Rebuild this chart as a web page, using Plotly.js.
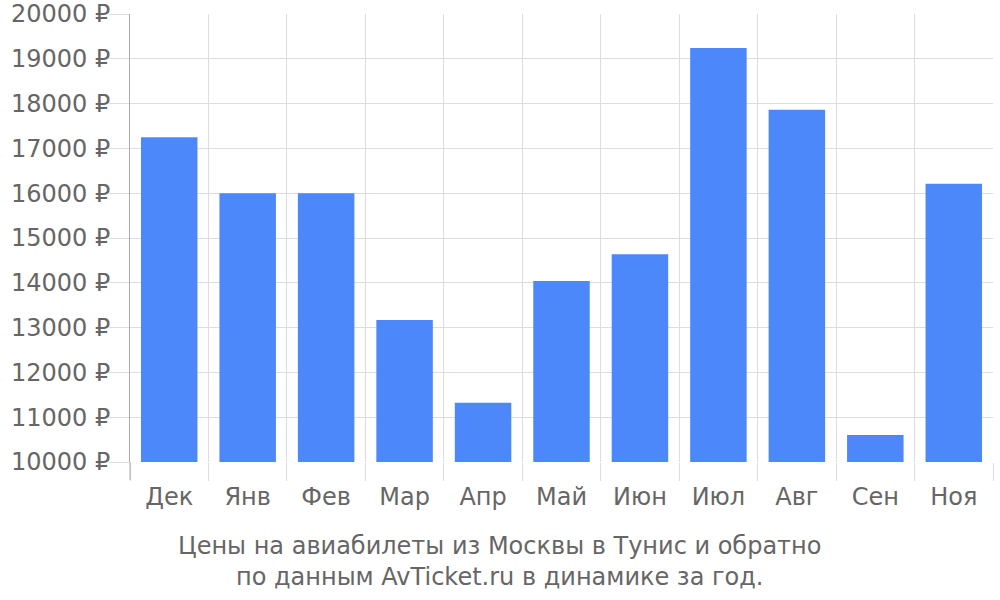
<!DOCTYPE html>
<html>
<head>
<meta charset="utf-8">
<script src="https://cdn.plot.ly/plotly-3.0.1.min.js"></script>
<style>
  body { margin: 0; }
  #chart { width: 1000px; height: 600px; }
</style>
</head>
<body>
<div id="chart"></div>
<script>
var months = ['Дек', 'Янв', 'Фев', 'Мар', 'Апр', 'Май', 'Июн', 'Июл', 'Авг', 'Сен', 'Ноя'];
var prices = [17250, 16000, 16000, 13170, 11320, 14040, 14640, 19240, 17860, 10600, 16210];
var yTicks = [10000, 11000, 12000, 13000, 14000, 15000, 16000, 17000, 18000, 19000, 20000];
var yLabels = yTicks.map(function(v) { return v + ' ₽'; });

var trace = {
    x: months,
    y: prices,
    type: 'bar',
    marker: {
        color: '#4d88fa'
    },
    hoverinfo: 'x+y'
};

var layout = {
    width: 1000,
    height: 600,
    margin: { l: 130, r: 7, t: 14, b: 138 },
    paper_bgcolor: 'white',
    plot_bgcolor: 'white',
    bargap: 0.28,
    showlegend: false,
    font: { family: 'DejaVu Sans', size: 24, color: '#666' },
    xaxis: {
        type: 'category',
        tickson: 'boundaries',
        ticks: 'outside',
        ticklen: 18,
        tickcolor: '#ddd',
        tickwidth: 1,
        ticklabelstandoff: 18,
        showgrid: true,
        gridcolor: '#ddd',
        gridwidth: 1,
        showline: false,
        zeroline: false,
        tickfont: { size: 24, color: '#666' }
    },
    yaxis: {
        range: [10000, 20000],
        tickvals: yTicks,
        ticktext: yLabels,
        ticks: 'outside',
        ticklen: 20,
        tickcolor: '#ddd',
        ticklabelstandoff: -6,
        showgrid: true,
        gridcolor: '#ddd',
        gridwidth: 1,
        showline: true,
        linecolor: '#aaa',
        linewidth: 1,
        zeroline: false,
        tickfont: { size: 24, color: '#666' }
    },
    shapes: [
        // axis line continues below the plot, like the reference
        {
            type: 'line',
            xref: 'paper', yref: 'paper',
            x0: 0, x1: 0, y0: 0, y1: -18 / 448,
            line: { color: '#aaa', width: 1 }
        }
    ],
    annotations: [
        {
            text: 'Цены на авиабилеты из Москвы в Тунис и обратно<br>по данным AvTicket.ru в динамике за год.',
            showarrow: false,
            xref: 'paper',
            yref: 'paper',
            x: 0.4287,
            y: -0.221,
            xanchor: 'center',
            yanchor: 'middle',
            align: 'center',
            font: { size: 24, color: '#666' }
        }
    ]
};

Plotly.newPlot('chart', [trace], layout, { displayModeBar: false });
</script>
</body>
</html>
